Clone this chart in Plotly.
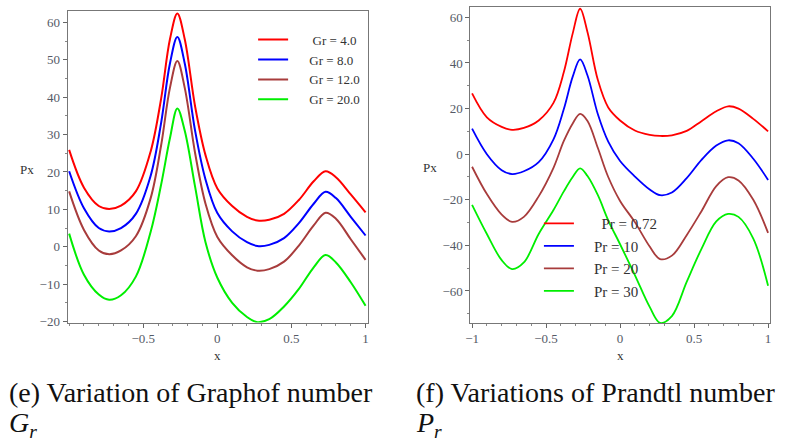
import plotly.graph_objects as go

# ---------------- data ----------------
X = [-1.0, -0.9, -0.8, -0.73, -0.65, -0.55, -0.45, -0.38, -0.32, -0.27, -0.22, -0.15, -0.08,
     0.0, 0.1, 0.2, 0.27, 0.35, 0.45, 0.55, 0.65, 0.73, 0.8, 0.9, 1.0]

# (e) Graphof number Gr
gr_4 = [25.9, 15.8, 10.9, 10.1, 11.0, 14.8, 25.5, 39.5, 55.5, 62.4, 55.5, 37.5, 24.5,
        15.6, 10.9, 8.0, 7.0, 7.2, 8.8, 12.5, 17.5, 20.2, 18.6, 14.0, 9.2]
gr_8 = [20.2, 10.3, 5.0, 4.1, 5.0, 8.8, 19.0, 33.0, 49.0, 56.1, 49.0, 31.0, 18.0,
        9.0, 4.1, 1.2, 0.2, 0.5, 2.3, 6.3, 11.5, 14.7, 13.0, 8.0, 3.0]
gr_12 = [14.8, 4.5, -1.0, -2.0, -1.0, 2.8, 13.0, 27.0, 42.5, 49.7, 42.5, 25.0, 11.5,
         2.6, -2.3, -5.5, -6.4, -6.0, -4.0, 0.3, 5.7, 9.1, 7.5, 2.0, -3.5]
gr_20 = [3.5, -7.5, -12.8, -14.2, -13.0, -8.0, 4.0, 16.5, 29.0, 37.0, 31.0, 16.0, 1.2,
         -8.3, -15.0, -18.8, -20.2, -19.4, -16.0, -11.3, -5.5, -2.2, -4.2, -9.5, -15.8]

# (f) Prandtl number Pr
pr_072 = [26.7, 16.2, 12.0, 10.7, 11.5, 14.8, 22.5, 36.0, 53.0, 63.8, 53.5, 32.5, 20.5,
          14.8, 10.4, 8.5, 8.0, 8.3, 10.2, 14.5, 18.8, 21.0, 20.0, 15.5, 10.0]
pr_10 = [11.2, 0.0, -7.0, -8.7, -7.5, -3.5, 6.5, 19.8, 34.0, 41.6, 34.5, 17.5, 5.5,
         -3.0, -9.8, -15.5, -18.0, -16.8, -10.5, -2.5, 3.8, 6.1, 4.8, -2.0, -11.3]
pr_20 = [-5.5, -17.5, -26.5, -29.7, -27.5, -18.5, -6.0, 5.8, 13.5, 17.7, 14.6, 2.7, -10.0,
         -20.5, -29.8, -40.5, -46.0, -44.5, -35.5, -25.0, -14.0, -10.1, -11.5, -20.0, -34.5]
pr_30 = [-22.2, -35.0, -46.5, -50.4, -47.5, -35.0, -24.5, -16.3, -10.0, -6.2, -9.6, -18.0, -29.0,
         -39.5, -53.0, -67.0, -74.0, -71.0, -56.0, -41.5, -29.5, -26.2, -27.5, -37.0, -57.7]

gr_labels = ["Gr = 4.0", "Gr = 8.0", "Gr = 12.0", "Gr = 20.0"]
pr_labels = ["Pr = 0.72", "Pr = 10", "Pr = 20", "Pr = 30"]
colors = ["#ff0000", "#0000ff", "#a83c3c", "#00ee00"]

left_xticks = [-0.5, 0, 0.5, 1]
right_xticks = [-1, -0.5, 0, 0.5, 1]
left_yticks = [-20, -10, 0, 10, 20, 30, 40, 50, 60]
right_yticks = [-60, -40, -20, 0, 20, 40, 60]

captions_left = ["(e) Variation of Graphof number", "<i>G</i><sub><i>r</i></sub>"]
captions_right = ["(f) Variations of Prandtl number", "<i>P</i><sub><i>r</i></sub>"]

# ---------------- figure ----------------
SERIF = "Liberation Serif, Times New Roman, serif"
W, H = 792, 446
fig = go.Figure()

gr_pad = ["\u00a0" * 6, "\u00a0" * 5, "\u00a0" * 5, "\u00a0" * 5]
for ys, name, c, pad in zip([gr_4, gr_8, gr_12, gr_20], gr_labels, colors, gr_pad):
    fig.add_trace(go.Scatter(x=X, y=ys, mode="lines", name=pad + name,
                             line=dict(color=c, width=2, shape="spline", smoothing=1.0),
                             xaxis="x", yaxis="y", legend="legend"))

pr_pad = ["\u00a0" * 6, "\u00a0" * 4, "\u00a0" * 4, "\u00a0" * 4]
for ys, name, c, pad in zip([pr_072, pr_10, pr_20, pr_30], pr_labels, colors, pr_pad):
    fig.add_trace(go.Scatter(x=X, y=ys, mode="lines", name=pad + name,
                             line=dict(color=c, width=1.8, shape="spline", smoothing=1.0),
                             xaxis="x2", yaxis="y2", legend="legend2"))

axis_common = dict(showline=True, linecolor="#777777", linewidth=1, mirror=True,
                   showgrid=False, zeroline=False, ticks="outside", ticklen=4,
                   tickcolor="#666666", tickfont=dict(family=SERIF, size=13, color="#555a66"))

fig.update_layout(
    width=W, height=H, margin=dict(l=0, r=0, t=0, b=0),
    paper_bgcolor="white", plot_bgcolor="white",
    xaxis=dict(domain=[63 / W, 366 / W], range=[-1.011, 1.018], anchor="y",
               tickvals=left_xticks, minor=dict(dtick=0.1, ticks="outside", ticklen=2, tickcolor="#888"),
               **axis_common),
    yaxis=dict(domain=[1 - 327 / H, 1 - 11 / H], range=[-20.3, 63.1], anchor="x",
               tickvals=left_yticks, minor=dict(dtick=5, ticks="outside", ticklen=2, tickcolor="#888"),
               **axis_common),
    xaxis2=dict(domain=[469 / W, 771 / W], range=[-1.011, 1.014], anchor="y2",
                tickvals=right_xticks, minor=dict(dtick=0.1, ticks="outside", ticklen=2, tickcolor="#888"),
                **axis_common),
    yaxis2=dict(domain=[1 - 327.3 / H, 1 - 7 / H], range=[-74, 64.6], anchor="x2",
                tickvals=right_yticks, minor=dict(dtick=10, ticks="outside", ticklen=2, tickcolor="#888"),
                **axis_common),
    legend=dict(x=250 / W, y=1 - 25 / H, xanchor="left", yanchor="top",
                bgcolor="rgba(0,0,0,0)", borderwidth=0,
                font=dict(family=SERIF, size=13, color="#333")),
    legend2=dict(x=538 / W, y=1 - 210 / H, xanchor="left", yanchor="top",
                 bgcolor="rgba(0,0,0,0)", borderwidth=0,
                 font=dict(family=SERIF, size=15, color="#333")),
)

ann_font = dict(family=SERIF, size=13, color="#333")
cap_font = dict(family=SERIF, size=28, color="#111")


def lab(text, px, py, font, xanchor="center", pad=1):
    return dict(text=text, x=px / W, y=1 - py / H, xref="paper", yref="paper",
                xanchor=xanchor, yanchor="middle", showarrow=False, font=font, borderpad=pad)


annotations = [
    lab("Px", 22, 172, ann_font),
    lab("x", 214, 360, ann_font, pad=0),
    lab("Px", 428, 170, ann_font),
    lab("x", 620, 360, ann_font, pad=0),
    lab(captions_left[0], 2, 398, cap_font, "left"),
    lab(captions_left[1], 2, 430, cap_font, "left"),
    lab(captions_right[0], 412, 398, cap_font, "left"),
    lab(captions_right[1], 412, 430, cap_font, "left"),
]
fig.update_layout(annotations=annotations)

fig.write_html("out.html")
